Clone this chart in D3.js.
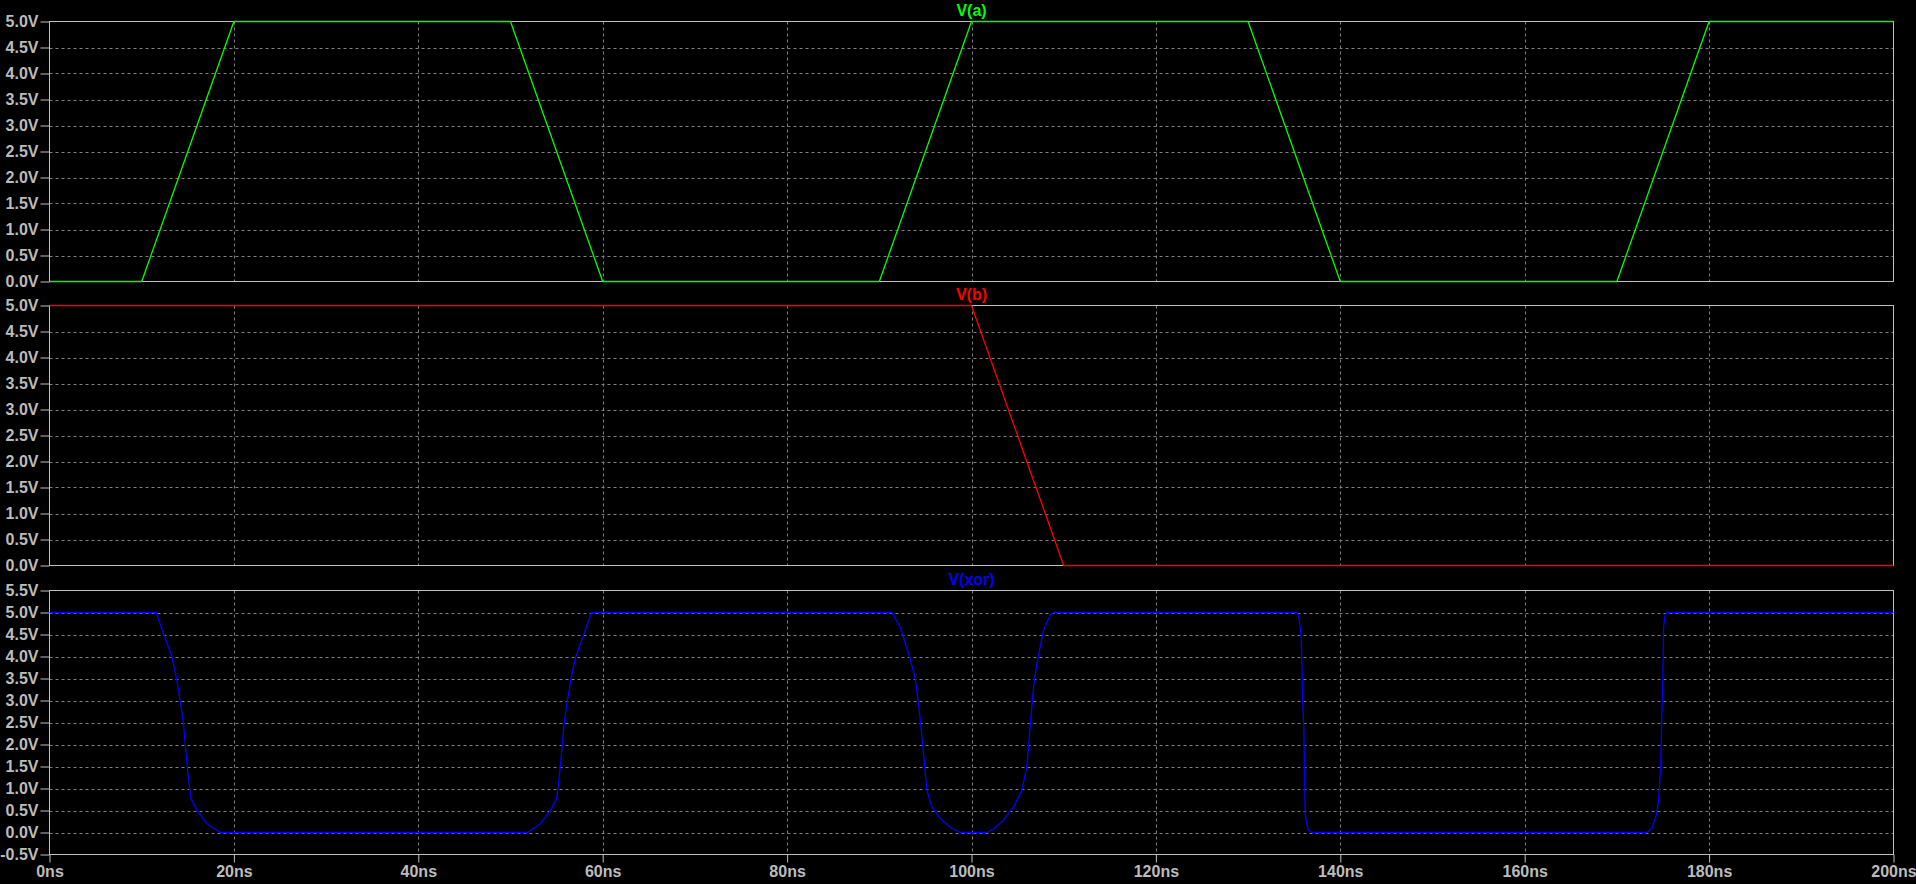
<!DOCTYPE html>
<html>
<head>
<meta charset="utf-8">
<script src="https://cdn.jsdelivr.net/npm/d3@7"></script>
<style>
  html, body { margin: 0; padding: 0; background: #000; overflow: hidden; }
  svg { display: block; }
  text { font-family: "Liberation Sans", Arial, sans-serif; font-weight: bold; }
</style>
</head>
<body>
<svg id="chart" width="1916" height="884"></svg>
<script>
// ---- data ----
const timeTicks = [0, 20, 40, 60, 80, 100, 120, 140, 160, 180, 200];
const voltTicksAB = [0, 0.5, 1, 1.5, 2, 2.5, 3, 3.5, 4, 4.5, 5];
const voltTicksXor = [-0.5, 0, 0.5, 1, 1.5, 2, 2.5, 3, 3.5, 4, 4.5, 5, 5.5];

const timeA = [0, 10, 20, 50, 60, 90, 100, 130, 140, 170, 180, 200];
const voltA = [0, 0, 5, 5, 0, 0, 5, 5, 0, 0, 5, 5];

const timeB = [0, 100, 110, 200];
const voltB = [5, 5, 0, 0];

const timeXor = [0, 11.57, 12.37, 13.27, 13.74, 14.18, 14.53, 14.75, 15.01, 15.34, 15.99, 17.07, 18.51,
  51.85, 53.25, 54.35, 55.0, 55.33, 55.6, 55.82, 56.17, 56.6, 57.08, 57.98, 58.78,
  91.36, 92.27, 93.28, 93.9, 94.37, 94.8, 95.16, 95.7, 96.61, 97.69, 98.77,
  101.67, 102.39, 103.47, 104.56, 105.47, 106.01, 106.37, 106.73, 107.09, 107.81, 108.53, 108.9,
  135.29, 135.47, 135.65, 135.76, 135.84, 135.94, 136.05, 136.19, 136.37, 136.55, 136.92,
  173.25, 173.79, 174.26, 174.51, 174.62, 174.77, 174.88, 174.99, 175.06, 175.24, 175.42, 200];
const voltXor = [5, 5, 4.52, 4.0, 3.54, 3.0, 2.48, 1.95, 1.34, 0.77, 0.51, 0.2, 0,
  0, 0.2, 0.51, 0.77, 1.34, 1.95, 2.48, 3.0, 3.54, 4.0, 4.52, 5,
  5, 4.67, 4.0, 3.5, 2.7, 1.8, 0.96, 0.58, 0.32, 0.12, 0,
  0, 0.08, 0.28, 0.58, 0.96, 1.51, 2.42, 3.31, 3.84, 4.6, 4.94, 5,
  5, 4.94, 4.67, 4.41, 3.73, 2.89, 2.36, 0.43, 0.2, 0.05, 0,
  0, 0.09, 0.39, 0.7, 1.04, 1.72, 2.7, 3.54, 4.67, 4.94, 5, 5];

const traceNames = ["V(a)", "V(b)", "V(xor)"];
const traceColors = ["#00ff00", "#ff0000", "#0000ff"];

// ---- layout ----
const svg = d3.select("#chart");
const left = 49.5, right = 1893.5;
const panels = [
  { name: traceNames[0], color: traceColors[0], t: timeA, v: voltA, top: 21.5, bottom: 281.5, dom: [0, 5], ticks: voltTicksAB },
  { name: traceNames[1], color: traceColors[1], t: timeB, v: voltB, top: 305.5, bottom: 565.5, dom: [0, 5], ticks: voltTicksAB },
  { name: traceNames[2], color: traceColors[2], t: timeXor, v: voltXor, top: 590.5, bottom: 854.5, dom: [-0.5, 5.5], ticks: voltTicksXor }
];

const x = d3.scaleLinear().domain([0, 200]).range([left, right]);
const axisCol = "#c0c0c0", gridCol = "#808080", textCol = "#bcbcbc";

panels.forEach((p, i) => {
  const y = d3.scaleLinear().domain(p.dom).range([p.bottom, p.top]);
  const g = svg.append("g");

  // horizontal grid
  g.selectAll("line.hg").data(p.ticks.filter(d => d !== p.dom[0] && d !== p.dom[1]))
    .enter().append("line")
    .attr("x1", left).attr("x2", right)
    .attr("y1", d => Math.round(y(d)) + 0.5).attr("y2", d => Math.round(y(d)) + 0.5)
    .attr("stroke", gridCol).attr("stroke-width", 1).attr("stroke-dasharray", "3,3");

  // vertical grid
  g.selectAll("line.vg").data(timeTicks.filter(d => d !== 0 && d !== 200))
    .enter().append("line")
    .attr("x1", d => Math.round(x(d)) + 0.5).attr("x2", d => Math.round(x(d)) + 0.5)
    .attr("y1", p.top).attr("y2", p.bottom)
    .attr("stroke", gridCol).attr("stroke-width", 1).attr("stroke-dasharray", "3,3");

  // border
  g.append("rect").attr("x", left).attr("y", p.top)
    .attr("width", right - left).attr("height", p.bottom - p.top)
    .attr("fill", "none").attr("stroke", axisCol).attr("stroke-width", 1);

  // y axis
  const yAxis = d3.axisLeft(y).tickValues(p.ticks).tickFormat(d => d.toFixed(1) + "V").tickSize(9).tickPadding(2);
  const ya = g.append("g").attr("transform", `translate(${left},0)`).call(yAxis);
  ya.select(".domain").remove();
  ya.selectAll(".tick line").attr("stroke", axisCol);
  ya.selectAll(".tick text").attr("fill", textCol).style("font-size", "16px")
    .style("font-family", "'Liberation Sans', Arial, sans-serif").style("font-weight", "bold");

  // trace
  const pts = p.t.map((t, k) => [t, p.v[k]]);
  const line = d3.line().x(d => x(d[0])).y(d => y(d[1]));
  g.append("path").datum(pts).attr("d", line)
    .attr("fill", "none").attr("stroke", p.color).attr("stroke-width", 1.3)
    .attr("stroke-linejoin", "round");

  // title
  g.append("text").attr("x", (left + right) / 2).attr("y", p.top - 6)
    .attr("text-anchor", "middle").attr("fill", p.color)
    .style("font-size", "16px").text(p.name);

  // x axis on bottom panel
  if (i === panels.length - 1) {
    const xAxis = d3.axisBottom(x).tickValues(timeTicks).tickFormat(d => d + "ns").tickSize(8).tickPadding(3);
    const xa = g.append("g").attr("transform", `translate(0,${p.bottom})`).call(xAxis);
    xa.select(".domain").remove();
    xa.selectAll(".tick line").attr("stroke", axisCol);
    xa.selectAll(".tick text").attr("fill", textCol).style("font-size", "16px")
      .style("font-family", "'Liberation Sans', Arial, sans-serif").style("font-weight", "bold");
  }
});
</script>
</body>
</html>
